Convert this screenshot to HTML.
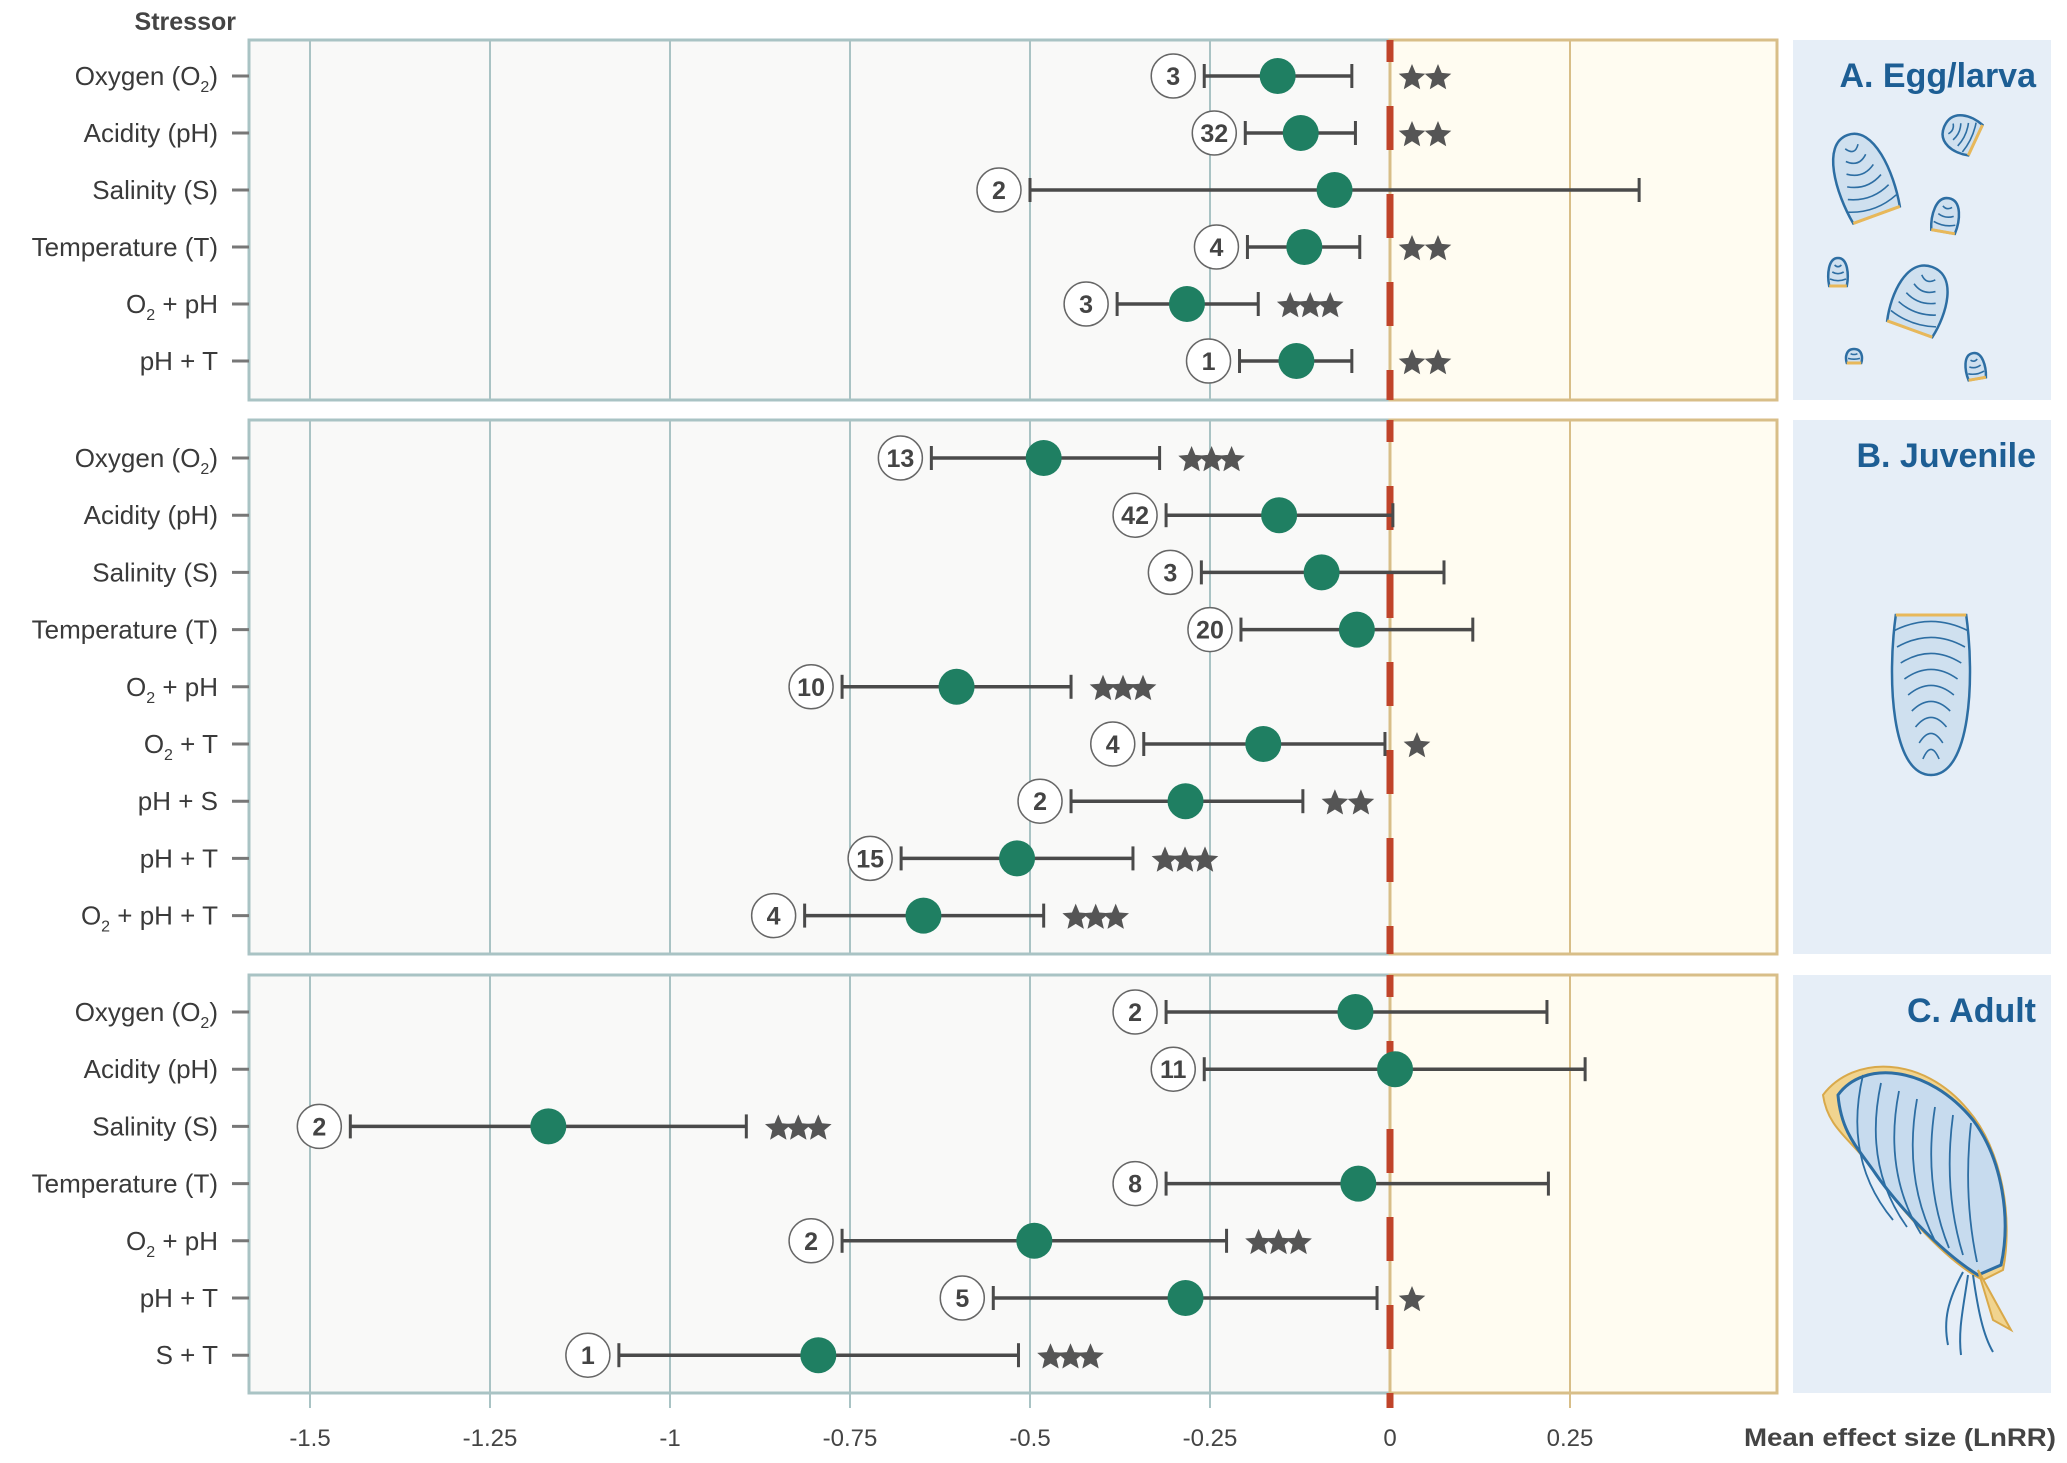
<!DOCTYPE html>
<html><head><meta charset="utf-8"><style>
html,body{margin:0;padding:0;background:#fff;}
svg{display:block;font-family:"Liberation Sans",sans-serif;}
</style></head><body>
<svg id="chart" width="2067" height="1463" viewBox="0 0 2067 1463" xmlns="http://www.w3.org/2000/svg">
<g id="bg"></g><g id="marks"></g><g id="art"></g>
</svg>
<script>
// ---- data ----
const labelsA = ["Oxygen (O2)","Acidity (pH)","Salinity (S)","Temperature (T)","O2 + pH","pH + T"];
const meanA = [-0.156,-0.124,-0.077,-0.119,-0.282,-0.130];
const loA   = [-0.258,-0.201,-0.500,-0.198,-0.379,-0.209];
const hiA   = [-0.053,-0.048,0.346,-0.042,-0.183,-0.053];
const nA    = [3,32,2,4,3,1];
const starsA= [2,2,0,2,3,2];

const labelsB = ["Oxygen (O2)","Acidity (pH)","Salinity (S)","Temperature (T)","O2 + pH","O2 + T","pH + S","pH + T","O2 + pH + T"];
const meanB = [-0.481,-0.154,-0.095,-0.046,-0.602,-0.176,-0.284,-0.518,-0.648];
const loB   = [-0.637,-0.311,-0.262,-0.207,-0.761,-0.342,-0.443,-0.679,-0.813];
const hiB   = [-0.320,0.004,0.075,0.115,-0.443,-0.007,-0.121,-0.357,-0.481];
const nB    = [13,42,3,20,10,4,2,15,4];
const starsB= [3,0,0,0,3,1,2,3,3];

const labelsC = ["Oxygen (O2)","Acidity (pH)","Salinity (S)","Temperature (T)","O2 + pH","pH + T","S + T"];
const meanC = [-0.048,0.007,-1.169,-0.044,-0.494,-0.284,-0.794];
const loC   = [-0.311,-0.258,-1.444,-0.311,-0.761,-0.551,-1.071];
const hiC   = [0.218,0.271,-0.894,0.220,-0.227,-0.018,-0.516];
const nC    = [2,11,2,8,2,5,1];
const starsC= [0,0,3,0,3,1,3];

const xTicks = [-1.5,-1.25,-1,-0.75,-0.5,-0.25,0,0.25];
const xTickLabels = ["-1.5","-1.25","-1","-0.75","-0.5","-0.25","0","0.25"];

// ---- layout ----
const NS="http://www.w3.org/2000/svg";
const X0=1390, SC=720, PL=249, PR=1777, SPX=1793;
const x = v => X0 + v*SC;
const panels=[
 {key:"egg-larva",title:"A. Egg/larva",top:40,bot:400,y0:76,dy:57,labels:labelsA,mean:meanA,lo:loA,hi:hiA,n:nA,stars:starsA},
 {key:"juvenile",title:"B. Juvenile",top:420,bot:954,y0:458,dy:57.2,labels:labelsB,mean:meanB,lo:loB,hi:hiB,n:nB,stars:starsB},
 {key:"adult",title:"C. Adult",top:975,bot:1393,y0:1012,dy:57.2,labels:labelsC,mean:meanC,lo:loC,hi:hiC,n:nC,stars:starsC}
];
function mk(tag,attrs,parent){const e=document.createElementNS(NS,tag);for(const k in attrs)e.setAttribute(k,attrs[k]);parent.appendChild(e);return e;}
const bg=document.getElementById('bg'), mg=document.getElementById('marks'), art=document.getElementById('art');

function addLabel(txt,xr,y,parent){
  const t=mk('text',{x:xr,y:y+9,'text-anchor':'end','font-size':26,fill:'#3a3a3a'},parent);
  
  
  const parts=txt.split('O2');
  parts.forEach((p,i)=>{
    if(i>0){const a=document.createElementNS(NS,'tspan');a.textContent='O';t.appendChild(a);
      const s=document.createElementNS(NS,'tspan');s.setAttribute('font-size','16');s.setAttribute('dy','7');s.textContent='2';t.appendChild(s);
      const r=document.createElementNS(NS,'tspan');r.setAttribute('dy','-7');r.textContent=p;t.appendChild(r);}
    else if(p){const a=document.createElementNS(NS,'tspan');a.textContent=p;t.appendChild(a);}
  });
}
function star(cx,cy,r,parent){
  let pts=[];for(let i=0;i<10;i++){const a=-Math.PI/2+i*Math.PI/5;const rr=i%2?r*0.45:r;pts.push((cx+rr*Math.cos(a)).toFixed(1)+','+(cy+rr*Math.sin(a)).toFixed(1));}
  const p=mk('polygon',{points:pts.join(' '),fill:'#555'},parent);
  
  
}

mk('text',{x:236,y:30,'text-anchor':'end','font-size':25,'font-weight':'bold',fill:'#444'},bg).textContent='Stressor';



panels.forEach(P=>{
  const g=mk('g',{},bg);
  
  
  mk('rect',{x:PL,y:P.top,width:X0-PL,height:P.bot-P.top,fill:'#f9f9f8',stroke:'#a9c3c4','stroke-width':3},g);
  mk('rect',{x:X0,y:P.top,width:PR-X0,height:P.bot-P.top,fill:'#fffcf1',stroke:'#d8be88','stroke-width':3},g);
  xTicks.forEach(v=>{ if(v!==0) mk('line',{x1:x(v),x2:x(v),y1:P.top,y2:P.bot,stroke:v>0?'#d8be88':'#a9c3c4','stroke-width':2},g);});
  mk('line',{x1:X0,x2:X0,y1:P.top,y2:P.bot,stroke:'#d8be88','stroke-width':2},g);
  const z=mk('line',{x1:X0,x2:X0,y1:P.top,y2:P.bot,stroke:'#c0442a','stroke-width':7,'stroke-dasharray':'44 44','stroke-dashoffset':22},g);
  
  
  const sp=mk('rect',{x:SPX,y:P.top,width:258,height:P.bot-P.top,fill:'#e6eef7'},g);
  
  
  const tt=mk('text',{x:2036,y:P.top+47,'text-anchor':'end','font-size':34,'font-weight':'bold',fill:'#1d5e94'},g);
  tt.textContent=P.title;
  
  

  P.labels.forEach((lab,i)=>{
    const y=P.y0+i*P.dy;
    addLabel(lab,218,y,g);
    mk('line',{x1:232,x2:249,y1:y,y2:y,stroke:'#777','stroke-width':3},g);
    const row=mk('g',{},mg);
    
    
    const lo=x(P.lo[i]),hi=x(P.hi[i]),m=x(P.mean[i]);
    mk('line',{x1:lo,x2:hi,y1:y,y2:y,stroke:'#4a4a4a','stroke-width':3.5},row);
    mk('line',{x1:lo,x2:lo,y1:y-12,y2:y+12,stroke:'#4a4a4a','stroke-width':3},row);
    mk('line',{x1:hi,x2:hi,y1:y-12,y2:y+12,stroke:'#4a4a4a','stroke-width':3},row);
    const c=mk('circle',{cx:lo-31,cy:y,r:22,fill:'#fff',stroke:'#666','stroke-width':1.5},row);
    
    
    const nt=mk('text',{x:lo-31,y:y+9,'text-anchor':'middle','font-size':25,'font-weight':'bold',fill:'#444'},row);
    nt.textContent=P.n[i];
    const d=mk('circle',{cx:m,cy:y,r:18,fill:'#1f7f62'},row);
    
    
    const ns=P.stars[i];
    if(ns>0){
      let sx=hi+32;
      if(hi>X0-50 && sx<X0+20) sx=X0+22;
      const sp2=ns===3?20:26;
      for(let k=0;k<ns;k++) star(sx+k*sp2,y+2,14,row);
    }
  });
});
xTicks.forEach((v,i)=>{
  mk('line',{x1:x(v),x2:x(v),y1:1393,y2:1408,stroke:v>0?'#d8be88':'#a9c3c4','stroke-width':2},bg);
  const t=mk('text',{x:x(v),y:1446,'text-anchor':'middle','font-size':24,fill:'#444'},bg);
  t.textContent=xTickLabels[i];
  
  
});
mk('line',{x1:X0,x2:X0,y1:1393,y2:1408,stroke:'#c0442a','stroke-width':7},bg);
const xt=mk('text',{x:2056,y:1446,'text-anchor':'end','font-size':25,'font-weight':'bold',fill:'#444',textLength:312,lengthAdjust:'spacingAndGlyphs'},bg);
xt.textContent='Mean effect size (LnRR)';



// ---- shell illustrations ----
function shell(cx,cy,w,h,rot,rings,parent){
  const g=mk('g',{transform:`translate(${cx},${cy}) rotate(${rot})`},parent);
  
  
  mk('path',{d:`M0,${-h/2} C${w*0.45},${-h/2} ${w/2},${h*0.1} ${w*0.4},${h/2} L${-w*0.4},${h/2} C${-w/2},${h*0.1} ${-w*0.45},${-h/2} 0,${-h/2}Z`,fill:'#cfe0ef',stroke:'#2d6ea3','stroke-width':2.5},g);
  for(let k=1;k<=rings;k++){const f=k/(rings+1);
    mk('path',{d:`M${-w*0.42*f - w*0.05},${-h/2+h*f} Q0,${-h/2+h*f+h*0.12} ${w*0.42*f + w*0.05},${-h/2+h*f}`,fill:'none',stroke:'#2d6ea3','stroke-width':1.6},g);}
  mk('line',{x1:-w*0.4,x2:w*0.4,y1:h/2,y2:h/2,stroke:'#e8b85a','stroke-width':3},g);
}
shell(1862,175,62,85,-20,6,art);
shell(1960,133,42,34,-65,4,art);
shell(1946,215,30,34,10,3,art);
shell(1838,272,22,28,0,3,art);
shell(1921,298,60,66,20,5,art);
shell(1854,356,18,14,0,2,art);
shell(1975,366,22,26,-10,3,art);
shell(1931,695,88,160,180,9,art);
const ad=mk('g',{transform:'translate(-7,0)'},art);


mk('path',{d:'M1830,1095 C1860,1055 1930,1055 1975,1110 C2010,1150 2020,1220 2010,1270 L1990,1280 C1950,1260 1900,1200 1880,1170 C1860,1140 1835,1130 1830,1095Z',fill:'#f1d48f',stroke:'#d9a94a','stroke-width':2},ad);
mk('path',{d:'M1845,1095 C1870,1060 1935,1065 1980,1120 C2010,1160 2018,1220 2008,1265 L1985,1275 C1945,1250 1900,1200 1880,1170 C1862,1145 1848,1130 1845,1095Z',fill:'#c7dbee',stroke:'#2d6ea3','stroke-width':3},ad);
for(let k=0;k<7;k++){mk('path',{d:`M${1870+k*18},${1075+k*8} Q${1850+k*20},${1160+k*6} ${1900+k*14},${1220+k*7}`,fill:'none',stroke:'#2d6ea3','stroke-width':1.8},ad);}
mk('path',{d:'M1985,1270 L2018,1330 L2000,1320 Z',fill:'#f1d48f',stroke:'#d9a94a','stroke-width':2},ad);
mk('path',{d:'M1975,1275 C1970,1310 1965,1330 1968,1355 M1980,1275 C1985,1310 1990,1335 2000,1352 M1970,1272 C1955,1300 1950,1320 1955,1345',fill:'none',stroke:'#2d6ea3','stroke-width':2},ad);
</script>
</body></html>
